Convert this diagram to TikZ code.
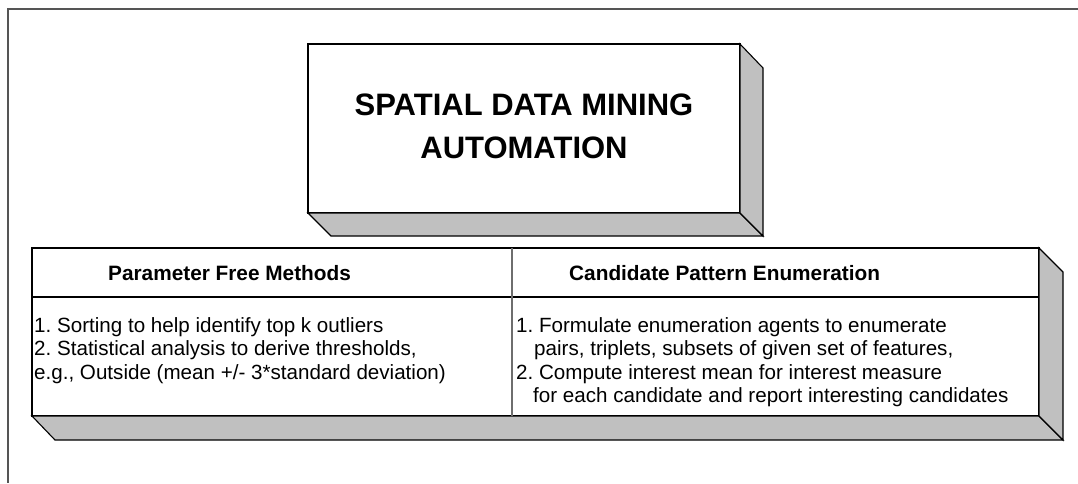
\documentclass[tikz,border=0pt]{standalone}
\usepackage{fontspec}
\setmainfont{Liberation Sans}
\frenchspacing
\definecolor{facegray}{RGB}{192,192,192}
\definecolor{framegray}{RGB}{85,85,85}
\definecolor{divgray}{RGB}{110,110,110}
\begin{document}
\begin{tikzpicture}[x=1pt,y=-1pt,
  edge/.style={draw=black,line width=1.1pt,line join=miter},
  face/.style={edge,fill=facegray},
  titletext/.style={inner sep=0pt,anchor=base,font=\fontsize{31}{36}\selectfont\bfseries},
  headtext/.style={inner sep=0pt,anchor=base west,font=\fontsize{20.8}{24}\selectfont\bfseries},
  bodytext/.style={inner sep=0pt,anchor=base west,font=\fontsize{20.6}{24}\selectfont}]
\useasboundingbox (0,0) rectangle (1078,483);
\fill[white] (0,0) rectangle (1078,483);

% open outer frame
\draw[framegray,line width=2pt] (1078,9) -- (8,9) -- (8,483);

% title block with bevelled bottom and right faces
\draw[edge,fill=white] (308,44) rectangle (740,213);
\draw[face] (308,213) -- (740,213) -- (763,236) -- (331,236) -- cycle;
\draw[face] (740,44) -- (763,68) -- (763,236) -- (740,213) -- cycle;
\node[titletext] (t1) at (524,115) {SPATIAL DATA MINING};
\node[titletext] (t2) at (524,158) {AUTOMATION};

% two-column table with bevelled bottom and right faces
\draw[edge,fill=white] (32,248) rectangle (1039,416);
\draw[face] (32,416) -- (1039,416) -- (1063,440) -- (55,440) -- cycle;
\draw[face] (1039,248) -- (1063,272) -- (1063,440) -- (1039,416) -- cycle;
\draw[black,line width=1.1pt] (32,297) -- (1039,297);
\draw[divgray,line width=1.6pt] (512,248) -- (512,416);

\node[headtext] (h1) at (108,280) {Parameter Free Methods};
\node[headtext] (h2) at (569,280) {Candidate Pattern Enumeration};

\node[bodytext] (l1) at (34,332) {1. Sorting to help identify top k outliers};
\node[bodytext] (l2) at (34,355) {2. Statistical analysis to derive thresholds,};
\node[bodytext] (l3) at (34,379) {e.g., Outside (mean +/- 3*standard deviation)};

\node[bodytext] (r1) at (516,332) {1. Formulate enumeration agents to enumerate};
\node[bodytext] (r2) at (534,355) {pairs, triplets, subsets of given set of features,};
\node[bodytext] (r3) at (516,379) {2. Compute interest mean for interest measure};
\node[bodytext] (r4) at (533,402) {for each candidate and report interesting candidates};
\end{tikzpicture}
\end{document}
